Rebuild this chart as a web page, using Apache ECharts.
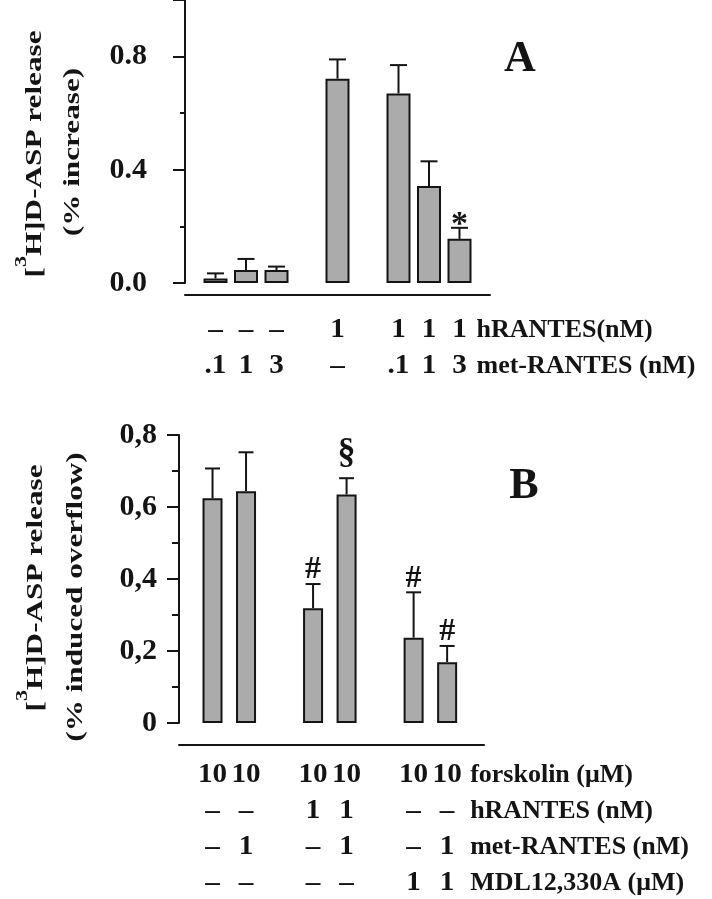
<!DOCTYPE html>
<html>
<head>
<meta charset="utf-8">
<script src="https://cdn.jsdelivr.net/npm/echarts@6/dist/echarts.min.js"></script>
<style>html,body{margin:0;padding:0;background:#fff}#c{width:712px;height:899px}</style>
</head>
<body>
<div id="c"></div>
<script>
// ---------- Panel A data ----------
const aPos  = [1, 2, 3, 5, 7, 8, 9];
const aMean = [0.016, 0.046, 0.046, 0.722, 0.670, 0.343, 0.156];
const aSem  = [0.018, 0.039, 0.012, 0.068, 0.100, 0.087, 0.039];
const aMarks = ['', '', '', '', '', '', '*'];
const aRowHR  = ['–', '–', '–', '1', '1', '1', '1'];
const aRowMet = ['.1', '1', '3', '–', '.1', '1', '3'];
const aRowNames = ['hRANTES(nM)', 'met-RANTES (nM)'];
const aTickVals = [0, 0.4, 0.8];
const aTickLabels = ['0.0', '0.4', '0.8'];
const aTitle = 'A';
const aYTitle1 = '[{s|3}H]D-ASP release';
const aYTitle2 = '(% increase)';

// ---------- Panel B data ----------
const bPos  = [1, 2, 4, 5, 7, 8];
const bMean = [0.624, 0.644, 0.319, 0.635, 0.237, 0.169];
const bSem  = [0.083, 0.108, 0.067, 0.045, 0.126, 0.045];
const bMarks = ['', '', '#', '§', '#', '#'];
const bRowForsk = ['10', '10', '10', '10', '10', '10'];
const bRowHR    = ['–', '–', '1', '1', '–', '–'];
const bRowMet   = ['–', '1', '–', '1', '–', '1'];
const bRowMDL   = ['–', '–', '–', '–', '1', '1'];
const bRowNames = ['forskolin (μM)', 'hRANTES (nM)', 'met-RANTES (nM)', 'MDL12,330A (μM)'];
const bTickVals = [0, 0.2, 0.4, 0.6, 0.8];
const bTickLabels = ['0', '0,2', '0,4', '0,6', '0,8'];
const bTitle = 'B';
const bYTitle1 = '[{s|3}H]D-ASP release';
const bYTitle2 = '(% induced overflow)';

// ---------- styling ----------
const INK = '#141414';
const FILL = '#ababab';
const SERIF = "'Liberation Serif','Times New Roman',serif";
const markStyle = { '*': { size: 34, dy: 3 }, '#': { size: 32, dy: 14 }, '§': { size: 36, dy: 24 } };

function tickFormatter(vals, labels) {
  return function (v) {
    for (let i = 0; i < vals.length; i++) if (Math.abs(vals[i] - v) < 1e-6) return labels[i];
    return '';
  };
}

function barSeries(ai, pos, mean, width) {
  return {
    type: 'bar', xAxisIndex: ai, yAxisIndex: ai === 0 ? 0 : 2,
    data: pos.map((p, i) => [p, mean[i]]),
    barWidth: width, z: 3, silent: true,
    itemStyle: { color: FILL, borderColor: INK, borderWidth: 2 }
  };
}

function errSeries(ai, pos, mean, sem, capW) {
  return {
    type: 'custom', xAxisIndex: ai, yAxisIndex: ai === 0 ? 0 : 2, z: 2, silent: true,
    data: pos.map((p, i) => [p, mean[i], mean[i] + sem[i]]),
    renderItem: function (params, api) {
      const b = api.coord([api.value(0), api.value(1)]);
      const t = api.coord([api.value(0), api.value(2)]);
      return {
        type: 'group', children: [
          { type: 'line', shape: { x1: b[0], y1: b[1], x2: t[0], y2: t[1] }, style: { stroke: INK, lineWidth: 2 } },
          { type: 'line', shape: { x1: t[0] - capW / 2, y1: t[1], x2: t[0] + capW / 2, y2: t[1] }, style: { stroke: INK, lineWidth: 2 } }
        ]
      };
    }
  };
}

function markSeries(ai, pos, mean, sem, marks) {
  const idx = [];
  marks.forEach((m, i) => { if (m) idx.push(i); });
  return {
    type: 'custom', xAxisIndex: ai, yAxisIndex: ai === 0 ? 0 : 2, z: 4, silent: true,
    data: idx.map(i => [pos[i], mean[i] + sem[i]]),
    renderItem: function (params, api) {
      const m = marks[idx[params.dataIndex]];
      const st = markStyle[m];
      const p = api.coord([api.value(0), api.value(1)]);
      return {
        type: 'text', x: p[0], y: p[1] - st.dy,
        style: { text: m, font: 'bold ' + st.size + 'px ' + SERIF, fill: INK, align: 'center', verticalAlign: 'middle' }
      };
    }
  };
}

function tableSeries(ai, pos, rows, rowNames, baseY, gap, labelDx) {
  const items = [];
  rows.forEach((row, r) => {
    row.forEach((t, i) => items.push({ x: pos[i], r: r, t: t, label: false }));
    items.push({ x: pos[pos.length - 1], r: r, t: rowNames[r], label: true });
  });
  return {
    type: 'custom', xAxisIndex: ai, yAxisIndex: ai === 0 ? 0 : 2, z: 4, silent: true, clip: false,
    data: items.map(d => [d.x, 0]),
    renderItem: function (params, api) {
      const d = items[params.dataIndex];
      const px = api.coord([api.value(0), 0])[0];
      return {
        type: 'text', x: d.label ? px + labelDx : px, y: baseY + d.r * gap, scaleX: d.label ? 1 : 1.08,
        style: { text: d.t, font: 'bold ' + (d.label ? 26 : 27) + 'px ' + SERIF, fill: INK, align: d.label ? 'left' : 'center', verticalAlign: 'middle' }
      };
    }
  };
}

function yTitle(x, y, text) {
  return {
    type: 'text', x: x, y: y, rotation: Math.PI / 2, scaleX: 1.3,
    style: {
      text: text, font: 'bold 24px ' + SERIF, fill: INK, align: 'center', verticalAlign: 'middle', lineHeight: 44,
      rich: { s: { fontSize: 17, fontWeight: 'bold', fontFamily: SERIF, verticalAlign: 'top', lineHeight: 44 } }
    }
  };
}

const axisLine = { show: true, onZero: false, lineStyle: { color: INK, width: 2 } };
const labelBase = { color: INK, fontFamily: SERIF, fontWeight: 'bold', fontSize: 30, padding: [12, 0, 0, 0] };

const option = {
  animation: false,
  backgroundColor: '#fff',
  grid: [
    { left: 185, top: 0, width: 305, height: 283 },
    { left: 179, top: 435, width: 305, height: 288 }
  ],
  xAxis: [
    { gridIndex: 0, type: 'value', min: 0, max: 10, offset: 12, axisLine: axisLine, axisTick: { show: false }, axisLabel: { show: false }, splitLine: { show: false } },
    { gridIndex: 1, type: 'value', min: 0, max: 9.1, offset: 22, axisLine: axisLine, axisTick: { show: false }, axisLabel: { show: false }, splitLine: { show: false } }
  ],
  yAxis: [
    { gridIndex: 0, type: 'value', min: 0, max: 1.0, interval: 0.4, position: 'left', axisLine: axisLine,
      axisTick: { show: true, length: 12, lineStyle: { color: INK, width: 2 } },
      axisLabel: Object.assign({ margin: 38, formatter: tickFormatter(aTickVals, aTickLabels) }, labelBase),
      splitLine: { show: false } },
    { gridIndex: 0, type: 'value', min: 0, max: 1.0, interval: 0.2, position: 'left', axisLine: { show: false },
      axisTick: { show: true, length: 5, lineStyle: { color: INK, width: 2 } },
      axisLabel: { show: false }, splitLine: { show: false } },
    { gridIndex: 1, type: 'value', min: 0, max: 0.8, interval: 0.2, position: 'left', axisLine: axisLine,
      axisTick: { show: true, length: 12, lineStyle: { color: INK, width: 2 } },
      minorTick: { show: true, splitNumber: 2, length: 7, lineStyle: { color: INK, width: 2 } },
      axisLabel: Object.assign({ margin: 22, formatter: tickFormatter(bTickVals, bTickLabels) }, labelBase),
      splitLine: { show: false } }
  ],
  graphic: [
    yTitle(35, 154, aYTitle1),
    yTitle(73, 152, aYTitle2),
    yTitle(36, 588, bYTitle1),
    yTitle(76, 597, bYTitle2),
    { type: 'text', x: 520, y: 60, style: { text: aTitle, font: 'bold 44px ' + SERIF, fill: INK, align: 'center', verticalAlign: 'middle' } },
    { type: 'text', x: 524, y: 487, style: { text: bTitle, font: 'bold 44px ' + SERIF, fill: INK, align: 'center', verticalAlign: 'middle' } }
  ],
  series: [
    errSeries(0, aPos, aMean, aSem, 17),
    barSeries(0, aPos, aMean, 24),
    markSeries(0, aPos, aMean, aSem, aMarks),
    tableSeries(0, aPos, [aRowHR, aRowMet], aRowNames, 330, 36, 17),
    errSeries(1, bPos, bMean, bSem, 15),
    barSeries(1, bPos, bMean, 20),
    markSeries(1, bPos, bMean, bSem, bMarks),
    tableSeries(1, bPos, [bRowForsk, bRowHR, bRowMet, bRowMDL], bRowNames, 775, 36, 23)
  ]
};

const chart = echarts.init(document.getElementById('c'), null, { renderer: 'canvas' });
chart.setOption(option);
</script>
</body>
</html>
